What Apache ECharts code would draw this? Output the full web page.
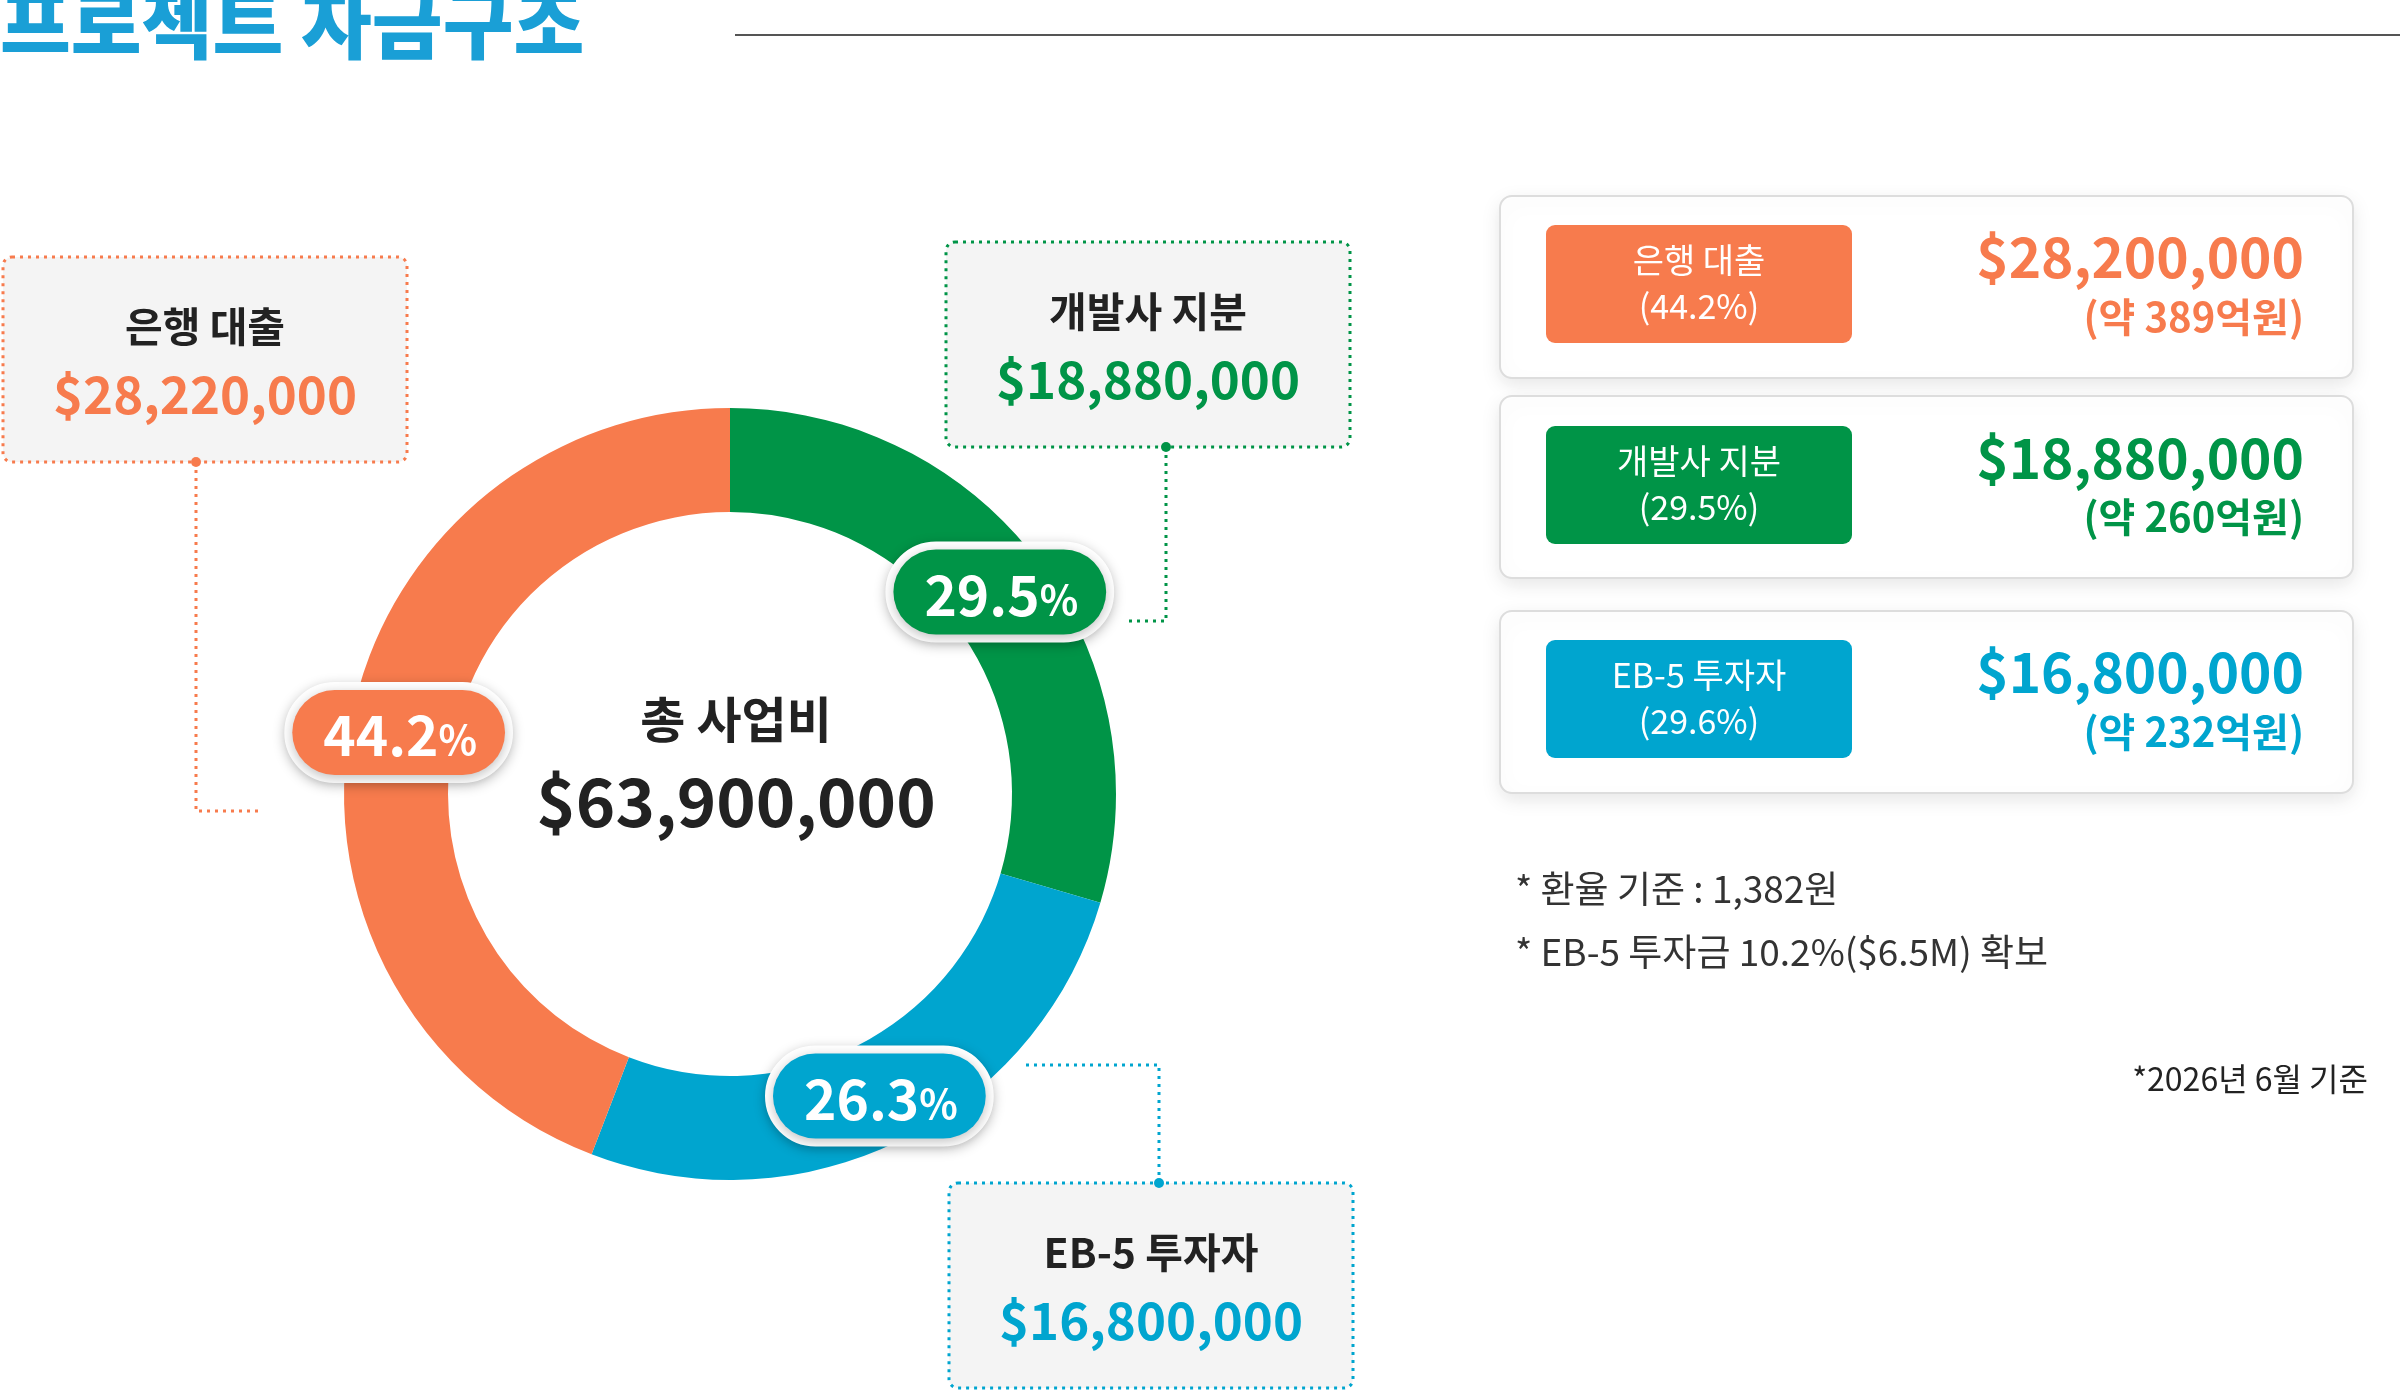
<!DOCTYPE html>
<html><head><meta charset="utf-8">
<script src="https://cdn.jsdelivr.net/npm/echarts@6/dist/echarts.min.js"></script>
<style>html,body{margin:0;padding:0;background:#fff}#c{width:2400px;height:1393px}</style>
</head><body><div id="c"></div>
<script>
// chart data
var names = ['개발사 지분', 'EB-5 투자자', '은행 대출'];
var amounts = [18880000, 16800000, 28220000];
var percents = ['29.5', '26.3', '44.2'];
var colors = ['#009447', '#00a5cf', '#f77b4d'];
var cardTitles = ['은행 대출', '개발사 지분', 'EB-5 투자자'];
var cardPercents = ['(44.2%)', '(29.5%)', '(29.6%)'];
var cardValues = ['$28,200,000', '$18,880,000', '$16,800,000'];
var cardKrw = ['(약 389억원)', '(약 260억원)', '(약 232억원)'];
var cardColors = ['#f77b4d', '#009447', '#00a5cf'];
var notes = ['* 환율 기준 : 1,382원', '* EB-5 투자금 10.2%($6.5M) 확보'];

var S = 2400 / 1568;
function p(v){ return Math.round(v * S); }
var FF = '"Noto Sans CJK KR", "Noto Sans", sans-serif';
function fmt(n){ return '$' + n.toLocaleString('en-US'); }

var chart = echarts.init(document.getElementById('c'));
var g = [];

// title
g.push({type:'text', left:0, top:p(-10), style:{text:'프로젝트 자금구조', font:'900 '+p(50)+'px '+FF, fill:'#1a9fd6'}});
g.push({type:'line', shape:{x1:p(480), y1:p(23), x2:2400, y2:p(23)}, style:{stroke:'#555', lineWidth:2}});

// center text
g.push({type:'text', x:p(481), y:p(470), style:{text:'총 사업비', font:'bold '+p(32)+'px '+FF, fill:'#222', align:'center', verticalAlign:'middle'}, z:10});
g.push({type:'text', x:p(481), y:p(524), style:{text:'$63,900,000', font:'bold '+p(44)+'px '+FF, fill:'#222', align:'center', verticalAlign:'middle'}, z:10});

// dotted callout boxes: [x,y,w,h, idx, line points, dot]
var boxes = [
  {x:2, y:168, idx:2, pts:[[128,302],[128,530],[172,530]]},
  {x:618, y:158, idx:0, pts:[[762,292],[762,406],[735,406]]},
  {x:620, y:773, idx:1, pts:[[757,773],[757,696],[668,696]]}
];
boxes.forEach(function(b){
  var c = colors[b.idx];
  g.push({type:'rect', shape:{x:p(b.x), y:p(b.y), width:p(264), height:p(134), r:p(6)}, style:{fill:'#f4f4f4', stroke:c, lineWidth:3, lineDash:[3,5]}});
  g.push({type:'text', x:p(b.x+132), y:p(b.y+45), style:{text:names[b.idx], font:'bold '+p(27)+'px '+FF, fill:'#222', align:'center', verticalAlign:'middle'}});
  g.push({type:'text', x:p(b.x+132), y:p(b.y+90), style:{text:fmt(amounts[b.idx]), font:'bold '+p(33)+'px '+FF, fill:c, align:'center', verticalAlign:'middle'}});
  g.push({type:'polyline', shape:{points:b.pts.map(function(q){return [p(q[0]),p(q[1])];})}, style:{stroke:c, lineWidth:3, lineDash:[3,5], fill:null}});
  g.push({type:'circle', shape:{cx:p(b.pts[0][0]), cy:p(b.pts[0][1]), r:5}, style:{fill:c}});
});

// right cards
var cardY = [128, 259, 399];
cardY.forEach(function(y, i){
  g.push({type:'rect', shape:{x:p(980), y:p(y), width:p(557), height:p(119), r:p(8)}, style:{fill:'#fff', stroke:'#ddd', lineWidth:2, shadowBlur:20, shadowColor:'rgba(0,0,0,0.10)', shadowOffsetY:6}});
  g.push({type:'rect', shape:{x:p(1010), y:p(y+19), width:p(200), height:p(77), r:p(6)}, style:{fill:cardColors[i]}});
  g.push({type:'text', x:p(1110), y:p(y+42), style:{text:cardTitles[i], font:p(22)+'px '+FF, fill:'#fff', align:'center', verticalAlign:'middle'}});
  g.push({type:'text', x:p(1110), y:p(y+72), style:{text:cardPercents[i], font:p(22)+'px '+FF, fill:'#fff', align:'center', verticalAlign:'middle'}});
  g.push({type:'text', x:p(1505), y:p(y+40), style:{text:cardValues[i], font:'bold '+p(36)+'px '+FF, fill:cardColors[i], align:'right', verticalAlign:'middle'}});
  g.push({type:'text', x:p(1505), y:p(y+79), style:{text:cardKrw[i], font:'bold '+p(26)+'px '+FF, fill:cardColors[i], align:'right', verticalAlign:'middle'}});
});

notes.forEach(function(t, i){
  g.push({type:'text', x:p(990), y:p(581 + i*41), style:{text:t, font:p(24)+'px '+FF, fill:'#333', verticalAlign:'middle'}});
});
g.push({type:'text', x:p(1547), y:p(705), style:{text:'*2026년 6월 기준', font:p(21)+'px '+FF, fill:'#222', align:'right', verticalAlign:'middle'}});

var pieData = names.map(function(n, i){
  return {name:n, value:amounts[i], itemStyle:{color:colors[i]},
    label:{backgroundColor:colors[i]}};
});

chart.setOption({
  animation:false,
  graphic:g,
  series:[{
    type:'pie',
    center:[p(477), p(519)],
    radius:[p(184), p(252)],
    startAngle:90,
    clockwise:true,
    silent:true,
    z:5,
    data:pieData,
    labelLine:{show:false},
    label:{
      show:true, position:'inside',
      formatter:function(o){ return '{v|' + percents[o.dataIndex] + '}{s|%}'; },
      borderColor:'#fff', borderWidth:p(5), borderRadius:p(38),
      padding:[p(12), p(18), p(8), p(20)],
      shadowBlur:12, shadowColor:'rgba(0,0,0,0.25)', shadowOffsetY:3,
      rich:{
        v:{fontFamily:FF, fontWeight:'bold', fontSize:p(36), color:'#fff'},
        s:{fontFamily:FF, fontWeight:'bold', fontSize:p(26), color:'#fff', padding:[p(6),0,0,0]}
      }
    }
  }]
});
</script></body></html>
